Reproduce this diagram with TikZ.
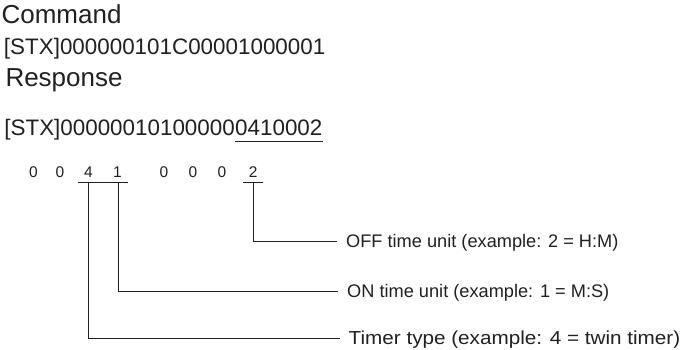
\documentclass[tikz,border=0pt]{standalone}
\usepackage{fontspec}
\setmainfont{Liberation Sans}
\usetikzlibrary{calc}
\definecolor{ink}{HTML}{231F20}
\begin{document}
\begin{tikzpicture}[x=1pt,y=-1pt,
  every node/.style={inner sep=0pt,text=ink},
  head/.style={anchor=base west,font=\fontsize{26}{30}\selectfont},
  code/.style={anchor=base west,font=\fontsize{22.4}{26}\selectfont},
  digit/.style={anchor=base,font=\fontsize{15.5}{18}\selectfont},
  lbl/.style={anchor=west,inner xsep=9pt,inner ysep=0pt,text height=13pt,text depth=0pt,font=\fontsize{18.2}{20}\selectfont},
  conn/.style={draw=ink,line width=1pt},
  uline/.style={draw=ink,line width=1.6pt}]
\useasboundingbox (0,0) rectangle (690,349);
\node[head] (cmdh) at (1.4,23.3) {Command};
\node[code] (cmd) at (3.8,54) {[STX]000000101C00001000001};
\node[head] (resh) at (5.3,86.5) {Response};
\node[code] (res) at (4.2,135.5) {[STX]00000010100000};
\node[code,anchor=base west] (resu) at (res.base east) {0410002};
\draw[uline] ($(resu.base west)+(0,6)$) -- ($(resu.base east)+(0,6)$);
% digits
\node[digit] (a1) at (33.5,177.7) {0};
\node[digit] (a2) at (60,177.7) {0};
\node[digit] (d4) at (88.5,177.7) {4};
\node[digit] (d1) at (117.5,177.7) {1};
\node[digit] (a5) at (164,177.7) {0};
\node[digit] (a6) at (193,177.7) {0};
\node[digit] (a7) at (222,177.7) {0};
\node[digit] (d2) at (253.3,177.7) {2};
\coordinate (u41a) at ($(d4.base)+(-10.2,4.8)$);
\coordinate (u41b) at ($(d1.base)+(10.8,4.8)$);
\coordinate (u2a) at ($(d2.base)+(-10,4.8)$);
\coordinate (u2b) at ($(d2.base)+(10,4.8)$);
\draw[conn] (u41a) -- (u41b);
\draw[conn] (u2a) -- (u2b);
% labels
\node[lbl] (loff) at (337,241) {OFF time unit (example: 2 = H:M)};
\node[lbl] (lon) at (338,291) {ON time unit (example: 1 = M:S)};
\node[lbl,text height=13.5pt,font=\fontsize{18.8}{22}\selectfont] (lt) at (339.5,338) {\scalebox{1.1}[1]{Timer type (example: 4 = twin timer)}};
\draw[conn] (d2 |- u2a) -- (d2 |- loff.west) -- (loff.west);
\draw[conn] ($(d1 |- u41a)+(0.8,0)$) -- ($(d1 |- lon.west)+(0.8,0)$) -- (lon.west);
\draw[conn] (d4 |- u41a) -- (d4 |- lt.west) -- (lt.west);
\end{tikzpicture}
\end{document}
